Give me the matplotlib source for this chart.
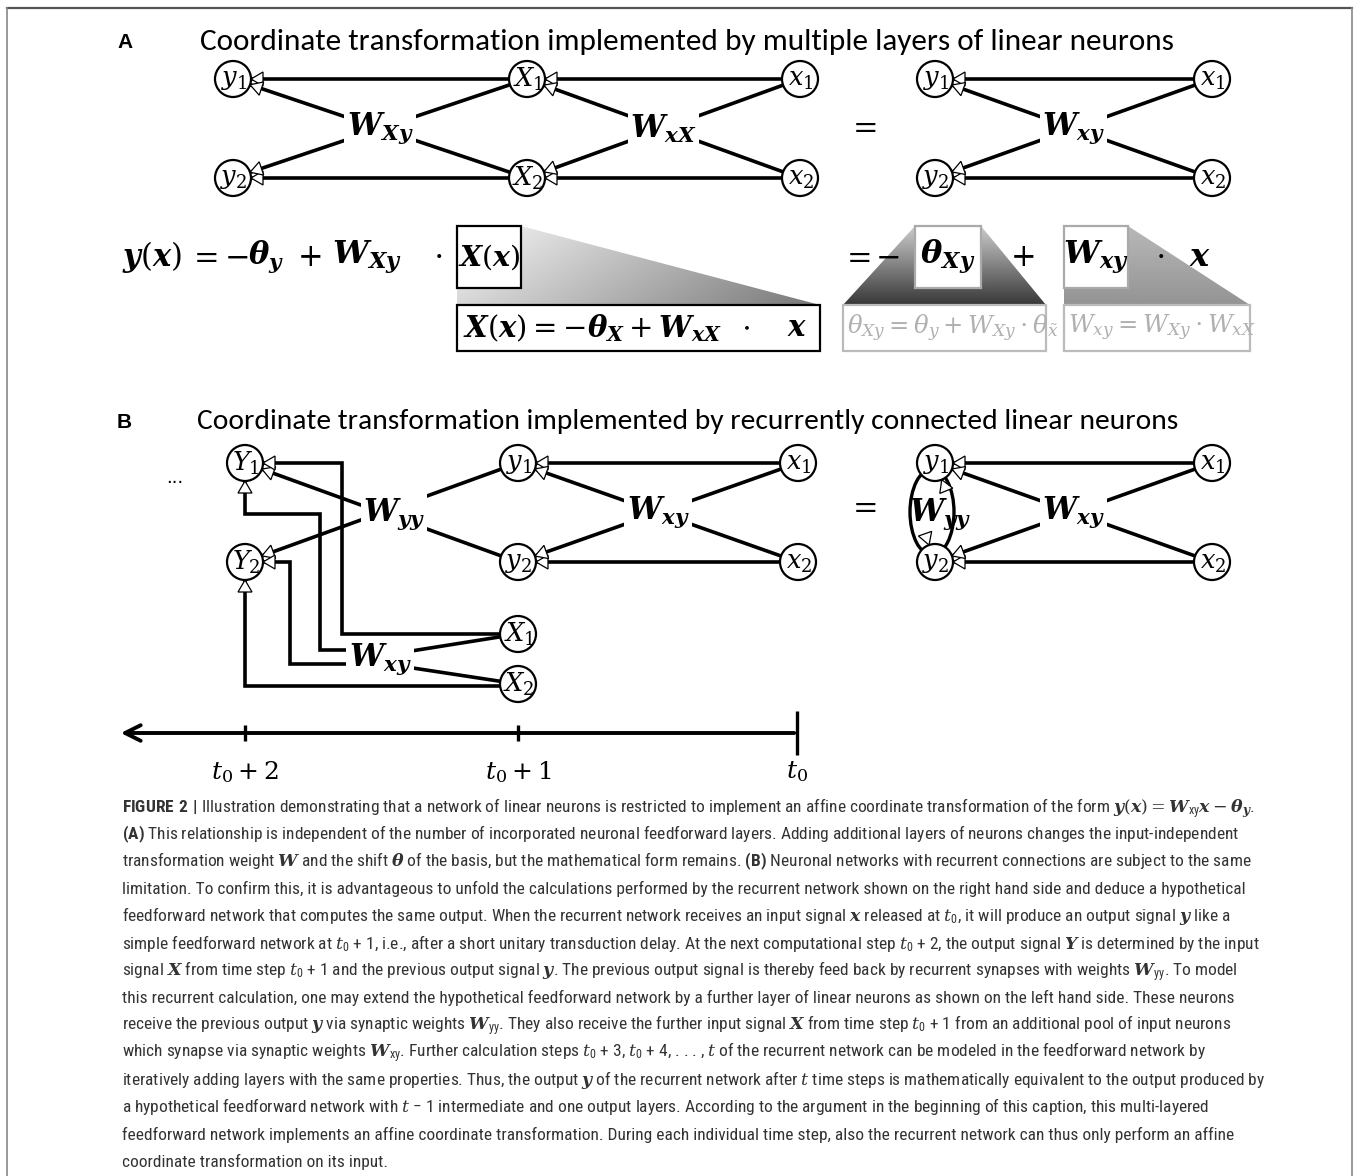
import numpy as np
import matplotlib
matplotlib.use("Agg")
import matplotlib.pyplot as plt
from matplotlib import font_manager as fm
from matplotlib.patches import Circle, Polygon, Rectangle, Ellipse

W, H = 1358, 1176

# ---- fonts ----
names = {f.name for f in fm.fontManager.ttflist}
def pick(cands, default):
    for c in cands:
        if c in names:
            return c
    return default

title_font = pick(["Carlito", "Lato", "Open Sans"], "DejaVu Sans")
cap_font = pick(["Liberation Sans Narrow", "Roboto Condensed", "Open Sans Condensed"], "Roboto")
serif = "DejaVu Serif"

plt.rcParams["mathtext.fontset"] = "custom"
plt.rcParams["mathtext.rm"] = serif
plt.rcParams["mathtext.it"] = serif + ":italic"
plt.rcParams["mathtext.bfit"] = serif + ":italic:bold"
plt.rcParams["mathtext.bf"] = cap_font + ":bold"
plt.rcParams["mathtext.sf"] = cap_font

# ---- diagram layout (pixel coordinates) ----
R = 18
A_ROWS = [79, 178]
A_CHAIN_X = [233, 527, 800]
A_CHAIN_NAMES = ["y", "X", "x"]
A_CHAIN_W = [r"$\mathbfit{W}_{\mathbfit{Xy}}$", r"$\mathbfit{W}_{\mathbfit{xX}}$"]
A_SHORT_X = [935, 1212]
A_SHORT_NAMES = ["y", "x"]
W_XY = r"$\mathbfit{W}_{\mathbfit{xy}}$"
W_YY = r"$\mathbfit{W}_{\mathbfit{yy}}$"

EQ_ROW1 = 257
EQ_ROW2 = 328
# x, text, alignment, size
EQ1 = [
    (122, r"$\mathbfit{y}(\mathbfit{x})$", "left", 22),
    (203, r"$=$", "center", 22),
    (236, r"$-$", "center", 22),
    (248, r"$\mathbfit{\theta}_{\mathbfit{y}}$", "left", 22),
    (309, r"$+$", "center", 22),
    (332, r"$\mathbfit{W}_{\mathbfit{Xy}}$", "left", 23),
    (438, r"$\cdot$", "center", 22),
    (489, r"$\mathbfit{X}(\mathbfit{x})$", "center", 20.5),
    (856, r"$=$", "center", 22),
    (887, r"$-$", "center", 22),
    (948, r"$\mathbfit{\theta}_{\mathbfit{Xy}}$", "center", 23),
    (1022, r"$+$", "center", 22),
    (1096, r"$\mathbfit{W}_{\mathbfit{xy}}$", "center", 23),
    (1160, r"$\cdot$", "center", 22),
    (1200, r"$\mathbfit{x}$", "center", 23),
]
EQ2 = [
    (463, r"$\mathbfit{X}(\mathbfit{x}) = -\mathbfit{\theta}_{\mathbfit{X}} + \mathbfit{W}_{\mathbfit{xX}}$", "left", "black", 21),
    (745, r"$\cdot$", "center", "black", 21),
    (797, r"$\mathbfit{x}$", "center", "black", 21),
    (847, r"$\theta_{Xy} = \theta_y + W_{Xy} \cdot \theta_{\tilde{x}}$", "left", "#b0b0b0", 17.5),
    (1068, r"$W_{xy} = W_{Xy} \cdot W_{xX}$", "left", "#b0b0b0", 17.5),
]
# boxes: x, y, w, h, edge colour
BOXES = [
    (457, 226, 64, 62, "black"),
    (457, 305, 363, 46, "black"),
    (915, 226, 66, 62, "#aaaaaa"),
    (1064, 226, 64, 62, "#aaaaaa"),
    (843, 305, 203, 46, "#bbbbbb"),
    (1064, 305, 186, 46, "#bbbbbb"),
]

B_ROWS = [463, 562]
B_Y_X = 245
B_MID_X = [518, 798]
B_RIGHT_X = [935, 1212]
B_X_ROWS = [634, 684]
B_WYY = (394, 514)
B_WXY_LOW = (380, 659)
WIRES = [
    [(245, 463), (342, 463), (342, 634), (518, 634)],
    [(245, 463), (245, 514), (320, 514), (320, 650), (352, 650)],
    [(245, 562), (290, 562), (290, 664), (352, 664)],
    [(245, 562), (245, 686), (518, 686)],
]

T_Y = 733
T_TICKS = [245, 518, 797]
T_LABELS = [r"$t_0+2$", r"$t_0+1$", r"$t_0$"]

T0 = r"$t_{\mathsf{0}}$"
CAP_X = 122
CAP_Y0 = 812
CAP_DY = 27.3
CAPTION = [
    r"$\mathbf{FIGURE\ 2\ |}$ Illustration demonstrating that a network of linear neurons is restricted to implement an affine coordinate transformation of the form $\mathbfit{y}(\mathbfit{x}) = \mathbfit{W}_{\mathsf{xy}}\mathbfit{x} - \mathbfit{\theta}_{\mathbfit{y}}$.",
    r"$\mathbf{(A)}$ This relationship is independent of the number of incorporated neuronal feedforward layers. Adding additional layers of neurons changes the input-independent",
    r"transformation weight $\mathbfit{W}$ and the shift $\mathbfit{\theta}$ of the basis, but the mathematical form remains. $\mathbf{(B)}$ Neuronal networks with recurrent connections are subject to the same",
    r"limitation. To confirm this, it is advantageous to unfold the calculations performed by the recurrent network shown on the right hand side and deduce a hypothetical",
    r"feedforward network that computes the same output. When the recurrent network receives an input signal $\mathbfit{x}$ released at " + T0 + r", it will produce an output signal $\mathbfit{y}$ like a",
    r"simple feedforward network at " + T0 + r" + 1, i.e., after a short unitary transduction delay. At the next computational step " + T0 + r" + 2, the output signal $\mathbfit{Y}$ is determined by the input",
    r"signal $\mathbfit{X}$ from time step " + T0 + r" + 1 and the previous output signal $\mathbfit{y}$. The previous output signal is thereby feed back by recurrent synapses with weights $\mathbfit{W}_{\mathsf{yy}}$. To model",
    r"this recurrent calculation, one may extend the hypothetical feedforward network by a further layer of linear neurons as shown on the left hand side. These neurons",
    r"receive the previous output $\mathbfit{y}$ via synaptic weights $\mathbfit{W}_{\mathsf{yy}}$. They also receive the further input signal $\mathbfit{X}$ from time step " + T0 + r" + 1 from an additional pool of input neurons",
    r"which synapse via synaptic weights $\mathbfit{W}_{\mathsf{xy}}$. Further calculation steps " + T0 + r" + 3, " + T0 + r" + 4, . . . , $t$ of the recurrent network can be modeled in the feedforward network by",
    r"iteratively adding layers with the same properties. Thus, the output $\mathbfit{y}$ of the recurrent network after $t$ time steps is mathematically equivalent to the output produced by",
    "a hypothetical feedforward network with $t$ \u2212 1 intermediate and one output layers. According to the argument in the beginning of this caption, this multi-layered",
    r"feedforward network implements an affine coordinate transformation. During each individual time step, also the recurrent network can thus only perform an affine",
    r"coordinate transformation on its input.",
]

LW = 2.6

fig = plt.figure(figsize=(W / 100, H / 100), dpi=100)
ax = fig.add_axes([0, 0, 1, 1])
ax.axis("off")
renderer = fig.canvas.get_renderer()


def fit_width(t, width):
    bb = t.get_window_extent(renderer=renderer)
    t.set_fontsize(t.get_fontsize() * width / bb.width)


def line(pts, lw=LW, z=2):
    pts = np.array(pts, float)
    ax.plot(pts[:, 0], pts[:, 1], color="black", lw=lw, zorder=z,
            solid_capstyle="butt", solid_joinstyle="miter")


def node(x, y, name, i):
    ax.add_patch(Circle((x, y), R, fc="white", ec="black", lw=1.6, zorder=3))
    ax.text(x + 1, y, r"$%s_{%d}$" % (name, i), ha="center", va="center",
            fontsize=18.5, zorder=6)


def synapse(cx, cy, fx, fy, L=12, hw=7):
    d = np.array([fx - cx, fy - cy], float)
    d /= np.hypot(*d)
    n = np.array([-d[1], d[0]])
    tip = np.array([cx, cy]) + d * R
    base = tip + d * L
    ax.add_patch(Polygon([tip, base + n * hw, base - n * hw], closed=True,
                         fc="white", ec="black", lw=0.9, zorder=4))


def wlabel(x, y, s, box=True):
    kw = dict(ha="center", va="center", fontsize=22, zorder=5)
    if box:
        kw["bbox"] = dict(fc="white", ec="none", pad=1.5)
    ax.text(x, y, s, **kw)


def layer_pair(xl, xr, rows, label, horiz=True):
    if horiz:
        for yy in rows:
            line([(xl, yy), (xr, yy)])
            synapse(xl, yy, xr, yy)
    line([(xl, rows[0]), (xr, rows[1])])
    line([(xl, rows[1]), (xr, rows[0])])
    synapse(xl, rows[0], xr, rows[1])
    synapse(xl, rows[1], xr, rows[0])
    wlabel((xl + xr) / 2, (rows[0] + rows[1]) / 2, label)


# ---- frame ----
ax.plot([7, 1352], [8, 8], color="#555555", lw=1.6, clip_on=False)
ax.plot([7, 7], [8, H], color="#888888", lw=1.2, clip_on=False)
ax.plot([1352, 1352], [8, H], color="#888888", lw=1.2, clip_on=False)

# ---- panel A ----
ax.text(117, 42, "A", ha="left", va="center", fontsize=15, fontweight="bold",
        family="Liberation Sans")
t = ax.text(200, 42, "Coordinate transformation implemented by multiple layers of linear neurons",
            ha="left", va="center", fontsize=20, family=title_font)
fit_width(t, 975)

for k in range(2):
    layer_pair(A_CHAIN_X[k], A_CHAIN_X[k + 1], A_ROWS, A_CHAIN_W[k])
layer_pair(A_SHORT_X[0], A_SHORT_X[1], A_ROWS, W_XY)
for xs, nm in [(A_CHAIN_X, A_CHAIN_NAMES), (A_SHORT_X, A_SHORT_NAMES)]:
    for x, n in zip(xs, nm):
        for i, yy in enumerate(A_ROWS):
            node(x, yy, n, i + 1)
ax.text(862, 128, r"$=$", ha="center", va="center", fontsize=22)


# gradients
def grad_poly(pts, x0, x1, y0, y1, fn):
    u, v = np.meshgrid(np.linspace(0, 1, 200), np.linspace(0, 1, 100))
    im = ax.imshow(fn(u, v), extent=(x0, x1, y1, y0), cmap="gray", vmin=0, vmax=1,
                   aspect="auto", interpolation="bilinear", zorder=1)
    p = Polygon(pts, closed=True, fc="none", ec="none", transform=ax.transData)
    ax.add_patch(p)
    im.set_clip_path(p)


grad_poly([(521, 226), (820, 305), (457, 305), (457, 288), (521, 288)],
          457, 820, 226, 305, lambda u, v: 0.97 - 0.5 * (0.75 * u + 0.25 * v))
grad_poly([(915, 226), (981, 226), (1046, 305), (843, 305)],
          843, 1046, 226, 305, lambda u, v: 0.8 - 0.58 * v)
grad_poly([(1128, 226), (1250, 305), (1064, 305), (1064, 226)],
          1064, 1250, 226, 305, lambda u, v: 0.58 + 0.14 * (1 - v))

for x, y, w, h, ec in BOXES:
    ax.add_patch(Rectangle((x, y), w, h, fc="white", ec=ec, lw=1.6, zorder=2))

for x, s, ha, fs in EQ1:
    ax.text(x, EQ_ROW1, s, ha=ha, va="center", fontsize=fs, zorder=5)
for x, s, ha, c, fs in EQ2:
    ax.text(x, EQ_ROW2, s, ha=ha, va="center", fontsize=fs, color=c, zorder=5)

# ---- panel B ----
ax.text(117, 422, "B", ha="left", va="center", fontsize=15, fontweight="bold",
        family="Liberation Sans")
t = ax.text(197, 422, "Coordinate transformation implemented by recurrently connected linear neurons",
            ha="left", va="center", fontsize=20, family=title_font)
fit_width(t, 978)
ax.text(175, 478, "...", ha="center", va="center", fontsize=13)

# Y -> y crossing
line([(B_Y_X, B_ROWS[0]), (B_MID_X[0], B_ROWS[1])])
line([(B_Y_X, B_ROWS[1]), (B_MID_X[0], B_ROWS[0])])
synapse(B_Y_X, B_ROWS[0], B_MID_X[0], B_ROWS[1])
synapse(B_Y_X, B_ROWS[1], B_MID_X[0], B_ROWS[0])
wlabel(B_WYY[0], B_WYY[1], W_YY)

for w in WIRES:
    line(w)
synapse(B_Y_X, B_ROWS[0], B_Y_X + 50, B_ROWS[0])
synapse(B_Y_X, B_ROWS[0], B_Y_X, B_ROWS[0] + 50)
synapse(B_Y_X, B_ROWS[1], B_Y_X + 50, B_ROWS[1])
synapse(B_Y_X, B_ROWS[1], B_Y_X, B_ROWS[1] + 50)

line([(B_WXY_LOW[0], B_WXY_LOW[1] - 3), (B_MID_X[0], B_X_ROWS[0])])
line([(B_WXY_LOW[0], B_WXY_LOW[1] + 4), (B_MID_X[0], B_X_ROWS[1])])
wlabel(B_WXY_LOW[0], B_WXY_LOW[1], W_XY)

layer_pair(B_MID_X[0], B_MID_X[1], B_ROWS, W_XY)
layer_pair(B_RIGHT_X[0], B_RIGHT_X[1], B_ROWS, W_XY)

# recurrent loop on the right
ax.add_patch(Ellipse((932, 512), 44, 86, fc="none", ec="black", lw=2.4, zorder=2))
synapse(B_RIGHT_X[0], B_ROWS[0], 950, 500)
synapse(B_RIGHT_X[0], B_ROWS[1], 922, 525)
ax.text(940, 514, W_YY, ha="center", va="center", fontsize=22, zorder=5)

for i, yy in enumerate(B_ROWS):
    node(B_Y_X, yy, "Y", i + 1)
    node(B_MID_X[0], yy, "y", i + 1)
    node(B_MID_X[1], yy, "x", i + 1)
    node(B_RIGHT_X[0], yy, "y", i + 1)
    node(B_RIGHT_X[1], yy, "x", i + 1)
for i, yy in enumerate(B_X_ROWS):
    node(B_MID_X[0], yy, "X", i + 1)
ax.text(862, 508, r"$=$", ha="center", va="center", fontsize=22)

# time axis
ax.annotate("", xy=(118, T_Y), xytext=(T_TICKS[-1], T_Y),
            arrowprops=dict(arrowstyle="->", lw=2.8, mutation_scale=28, color="black"))
for k, (x, s) in enumerate(zip(T_TICKS, T_LABELS)):
    half = 22 if k == len(T_TICKS) - 1 else 8
    line([(x, T_Y - half), (x, T_Y + half)], lw=2.4)
    ax.text(x, 772, s, ha="center", va="center", fontsize=18)

# ---- caption ----
caps = []
for i, s in enumerate(CAPTION):
    caps.append(ax.text(CAP_X, CAP_Y0 + i * CAP_DY, s, ha="left", va="baseline",
                        fontsize=10, family=cap_font, color="#333333"))
bb = caps[1].get_window_extent(renderer=renderer)
size = 10 * 1113 / bb.width
for c in caps:
    c.set_fontsize(size)

ax.set_xlim(0, W)
ax.set_ylim(H, 0)
fig.savefig("out.png", dpi=100)
